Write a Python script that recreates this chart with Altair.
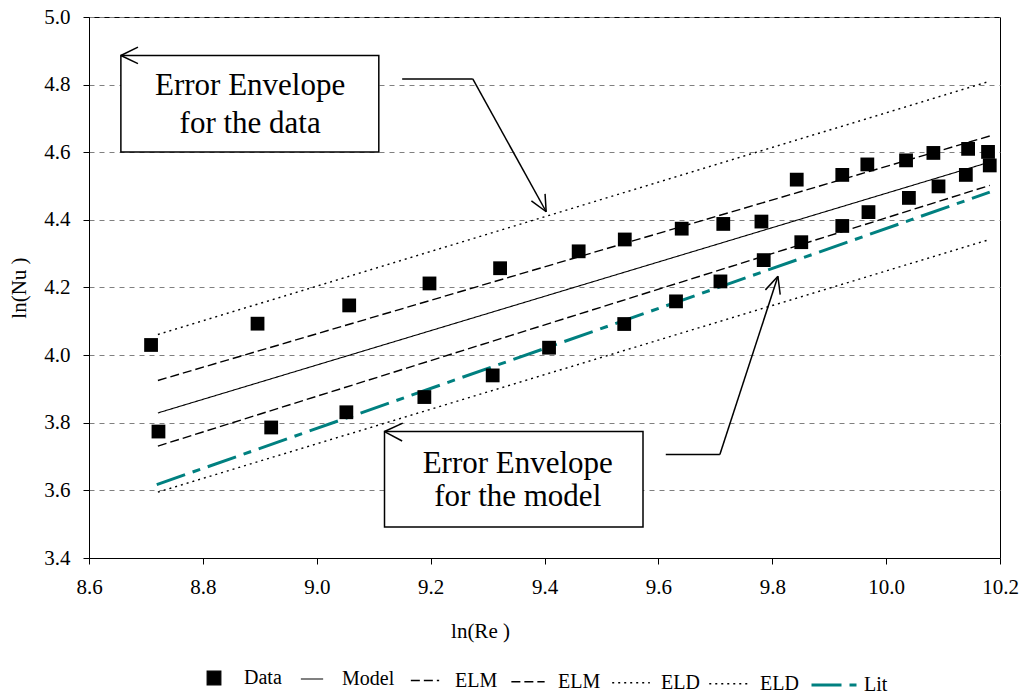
import altair as alt
import pandas as pd

# ---- measured data (ln Re, ln Nu) ----
data_x = [8.709, 8.722, 8.896, 8.920, 9.057, 9.052, 9.198, 9.189, 9.322, 9.309,
          9.460, 9.408, 9.541, 9.540, 9.641, 9.631, 9.714, 9.709, 9.781, 9.785,
          9.843, 9.851, 9.923, 9.923, 9.967, 9.969, 10.035, 10.040, 10.083, 10.092,
          10.144, 10.140, 10.179, 10.182]
data_y = [4.030, 3.774, 4.093, 3.786, 4.147, 3.831, 4.212, 3.876, 4.257, 3.940,
          4.307, 4.022, 4.342, 4.092, 4.374, 4.159, 4.388, 4.218, 4.395, 4.281,
          4.519, 4.334, 4.533, 4.382, 4.564, 4.423, 4.576, 4.465, 4.598, 4.499,
          4.610, 4.533, 4.601, 4.561]

line_x = [8.721, 10.182]
model_y = [3.829, 4.571]
elm_hi_y = [3.925, 4.648]
elm_lo_y = [3.731, 4.502]
eld_hi_y = [4.061, 4.810]
eld_lo_y = [3.595, 4.342]
lit_x = [8.719, 10.182]
lit_y = [3.617, 4.482]

series_order = ["Data", "Model", "ELM", "ELM ", "ELD", "ELD ", "Lit"]
series_colors = ["black", "black", "black", "black", "black", "black", "#008080"]
LINE_SYM = "M-1,0H1"
series_shapes = ["square", LINE_SYM, LINE_SYM, LINE_SYM, LINE_SYM, LINE_SYM, LINE_SYM]
series_dash = [[1, 0], [1, 0], [9, 4], [9, 4], [2, 4], [2, 4], [30, 8, 8, 8]]
series_size = [190, 2025, 2025, 2025, 2025, 2025, 2025]
series_width = [1.1, 1.1, 1.4, 1.4, 1.4, 1.4, 3]

# ---- annotations (data units) ----
box_x = [8.656, 9.119]
box_x2 = [9.109, 9.573]
box_y = [4.601, 3.492]
box_y2 = [4.886, 3.774]

seg_x = [8.656, 8.656, 9.150, 9.274, 9.403, 9.403, 9.119, 9.119, 9.613, 9.708, 9.810, 9.810]
seg_y = [4.886, 4.886, 4.817, 4.817, 4.424, 4.424, 3.774, 3.774, 3.706, 3.706, 4.233, 4.233]
seg_x2 = [8.686, 8.686, 9.274, 9.403, 9.401, 9.377, 9.151, 9.150, 9.708, 9.810, 9.788, 9.814]
seg_y2 = [4.911, 4.862, 4.817, 4.424, 4.477, 4.456, 3.799, 3.746, 3.706, 4.233, 4.193, 4.179]

note_text = ["Error Envelope", "for the data", "Error Envelope", "for the model"]
note_x = [8.883, 8.883, 9.353, 9.353]
note_y = [4.797, 4.685, 3.677, 3.580]

FONT = "Liberation Serif"

pts = pd.DataFrame({"x": data_x, "y": data_y, "series": "Data"})
rows = []
for name, xs, ys in [("Model", line_x, model_y), ("ELM", line_x, elm_hi_y),
                     ("ELM ", line_x, elm_lo_y), ("ELD", line_x, eld_hi_y),
                     ("ELD ", line_x, eld_lo_y), ("Lit", lit_x, lit_y)]:
    for xv, yv in zip(xs, ys):
        rows.append({"x": xv, "y": yv, "series": name})
lines = pd.DataFrame(rows)
boxes = pd.DataFrame({"x": box_x, "x2": box_x2, "y": box_y, "y2": box_y2})
segs = pd.DataFrame({"x": seg_x, "y": seg_y, "x2": seg_x2, "y2": seg_y2})
notes = pd.DataFrame({"t": note_text, "x": note_x, "y": note_y})

xscale = alt.Scale(domain=[8.6, 10.2], nice=False, zero=False)
yscale = alt.Scale(domain=[3.4, 5.0], nice=False, zero=False)

axis_common = dict(labelFont=FONT, labelFontSize=21, labelColor="black",
                   titleFont=FONT, titleFontSize=21, titleColor="black",
                   titleFontWeight="normal", domainColor="black", tickColor="black",
                   labelFlush=False, format=".1f", tickSize=6)

X = alt.X("x:Q", scale=xscale, title="ln(Re )",
          axis=alt.Axis(values=[8.6, 8.8, 9.0, 9.2, 9.4, 9.6, 9.8, 10.0, 10.2],
                        grid=False, labelPadding=12, titlePadding=23,
                        titleX=391, **axis_common))
Y = alt.Y("y:Q", scale=yscale, title="ln(Nu )",
          axis=alt.Axis(values=[3.4, 3.6, 3.8, 4.0, 4.2, 4.4, 4.6, 4.8, 5.0],
                        grid=True, gridDash=[5, 5], gridColor="#808080", gridWidth=1,
                        labelPadding=13, titlePadding=14, **axis_common))

leg = alt.Legend(title=None, orient="none", legendX=101, legendY=644, direction="horizontal",
                 columns=7, labelFont=FONT, labelFontSize=20, labelColor="black",
                 columnPadding=6, labelOffset=6, symbolLimit=0)

color = alt.Color("series:N", scale=alt.Scale(domain=series_order, range=series_colors), legend=leg)
shape = alt.Shape("series:N", scale=alt.Scale(domain=series_order, range=series_shapes), legend=leg)
size = alt.Size("series:N", scale=alt.Scale(domain=series_order, range=series_size), legend=leg)
dash = alt.StrokeDash("series:N", scale=alt.Scale(domain=series_order, range=series_dash), legend=leg)
swidth = alt.StrokeWidth("series:N", scale=alt.Scale(type="ordinal", domain=series_order, range=series_width), legend=leg)

line_layer = alt.Chart(lines).mark_line().encode(
    x=X, y=Y, color=color, strokeDash=dash, strokeWidth=swidth, detail="series:N")
point_layer = alt.Chart(pts).mark_point(filled=True, opacity=1).encode(
    x="x:Q", y="y:Q", color=color, shape=shape, size=size)
box_layer = alt.Chart(boxes).mark_rect(fill="white", stroke="black", strokeWidth=1.5).encode(
    x="x:Q", x2="x2:Q", y="y:Q", y2="y2:Q")
seg_layer = alt.Chart(segs).mark_rule(color="black", strokeWidth=1.5).encode(
    x="x:Q", x2="x2:Q", y="y:Q", y2="y2:Q")
note_layer = alt.Chart(notes).mark_text(font=FONT, fontSize=31, color="black",
                                         baseline="middle", align="center").encode(
    x="x:Q", y="y:Q", text="t:N")

chart = alt.layer(line_layer, point_layer, box_layer, seg_layer, note_layer).properties(
    width=911, height=541,
    padding={"left": 8, "top": 6, "right": 3, "bottom": 2},
).configure_view(stroke="black", strokeWidth=1)

chart.save("out.html", embed_options={"renderer": "svg", "actions": False})
